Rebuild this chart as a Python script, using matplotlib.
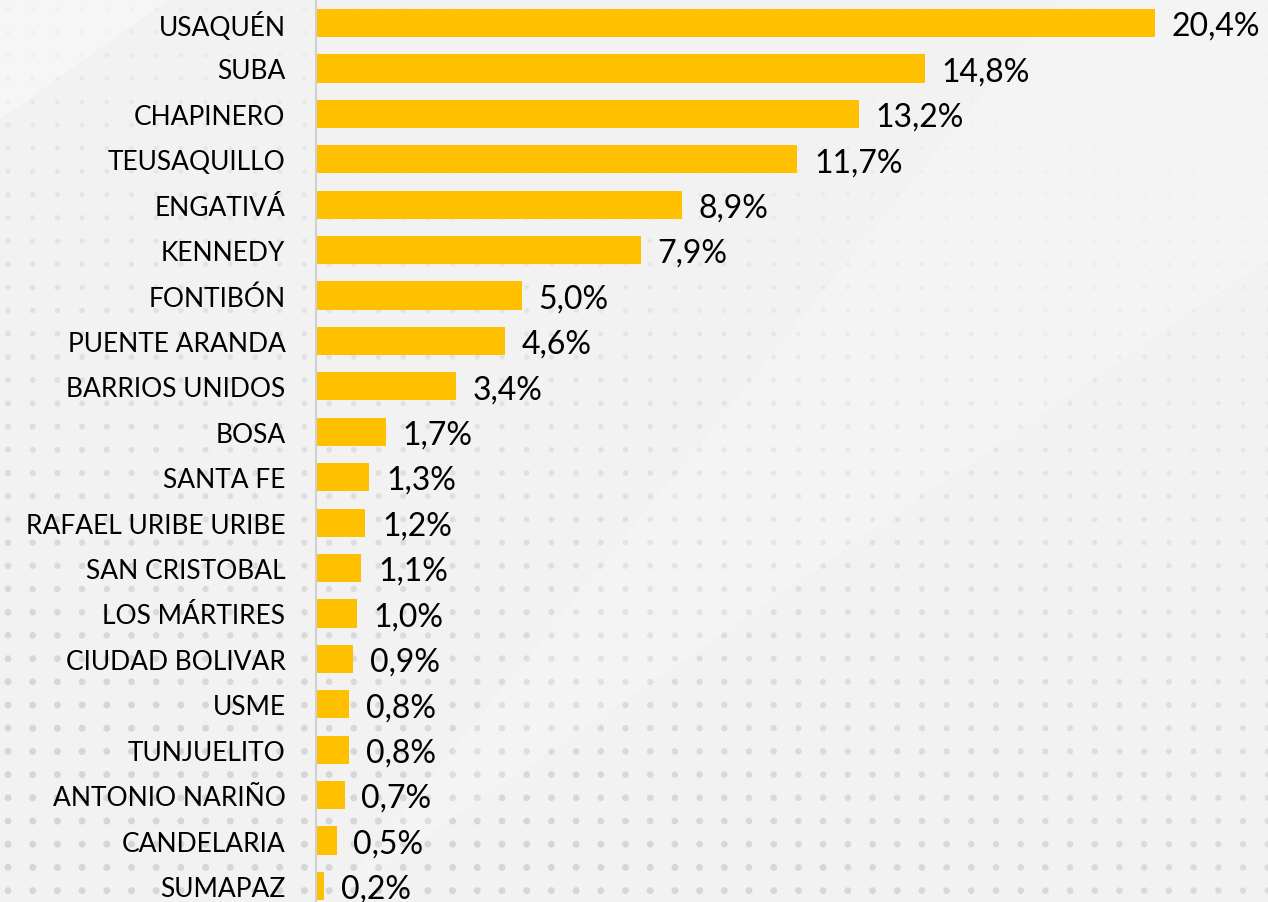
import matplotlib.pyplot as plt
import numpy as np

# data
localidades = ['USAQUÉN', 'SUBA', 'CHAPINERO', 'TEUSAQUILLO', 'ENGATIVÁ', 'KENNEDY',
               'FONTIBÓN', 'PUENTE ARANDA', 'BARRIOS UNIDOS', 'BOSA', 'SANTA FE',
               'RAFAEL URIBE URIBE', 'SAN CRISTOBAL', 'LOS MÁRTIRES', 'CIUDAD BOLIVAR',
               'USME', 'TUNJUELITO', 'ANTONIO NARIÑO', 'CANDELARIA', 'SUMAPAZ']
porcentajes = [20.4, 14.8, 13.2, 11.7, 8.9, 7.9, 5.0, 4.6, 3.4, 1.7, 1.3,
               1.2, 1.1, 1.0, 0.9, 0.8, 0.8, 0.7, 0.5, 0.2]
etiquetas = ['20,4%', '14,8%', '13,2%', '11,7%', '8,9%', '7,9%', '5,0%', '4,6%', '3,4%',
             '1,7%', '1,3%', '1,2%', '1,1%', '1,0%', '0,9%', '0,8%', '0,8%', '0,7%',
             '0,5%', '0,2%']

plt.rcParams['font.family'] = ['Lato', 'DejaVu Sans']

W, H = 1268, 903
fig = plt.figure(figsize=(W / 100, H / 100), dpi=100)
fig.patch.set_facecolor('#f2f2f2')

# background: dotted pattern, fading towards the top right
bg = fig.add_axes([0, 0, 1, 1])
bg.set_xlim(0, W)
bg.set_ylim(H, 0)
bg.axis('off')
gx, gy = np.meshgrid(np.arange(8, W, 24.7), np.arange(10, H, 23.2))
gx, gy = gx.ravel(), gy.ravel()
strength = np.clip(0.3 + 0.9 * (gy / H) - 0.35 * (gx / W), 0.08, 1)
cols = np.zeros((gx.size, 4))
cols[:, :3] = 0.84
cols[:, 3] = strength
bg.scatter(gx, gy, s=22 * strength + 3, c=cols, linewidths=0)
# soft diagonal highlight in the upper right
bg.fill([1060, W, W, 330], [0, 0, 260, H], color='white', alpha=0.18, lw=0)
bg.fill([0, 170, 0], [0, 0, 120], color='white', alpha=0.35, lw=0)

x0 = 316
px_per_pct = 41.13
ax = fig.add_axes([x0 / W, 0, 1 - x0 / W, 1])
ax.patch.set_alpha(0)
y = np.arange(len(localidades))
ax.barh(y, porcentajes, height=0.62, color='#FFC000')
ax.set_xlim(0, (W - x0) / px_per_pct)
step = 45.4
ax.set_ylim(19 + (H - 887) / step, -24 / step)

for yi, v, t in zip(y, porcentajes, etiquetas):
    ax.annotate(t, (v, yi), xytext=(12, -2), textcoords='offset points',
                va='center', ha='left', fontsize=23, color='black')

ax.set_yticks(y)
ax.set_yticklabels(localidades, fontsize=19)
ax.tick_params(axis='y', length=0, pad=22)
ax.set_xticks([])
for s in ['top', 'right', 'bottom']:
    ax.spines[s].set_visible(False)
ax.spines['left'].set_color('#d0d0d0')
ax.spines['left'].set_linewidth(1.5)

fig.savefig('out.png', dpi=100, facecolor=fig.get_facecolor())
